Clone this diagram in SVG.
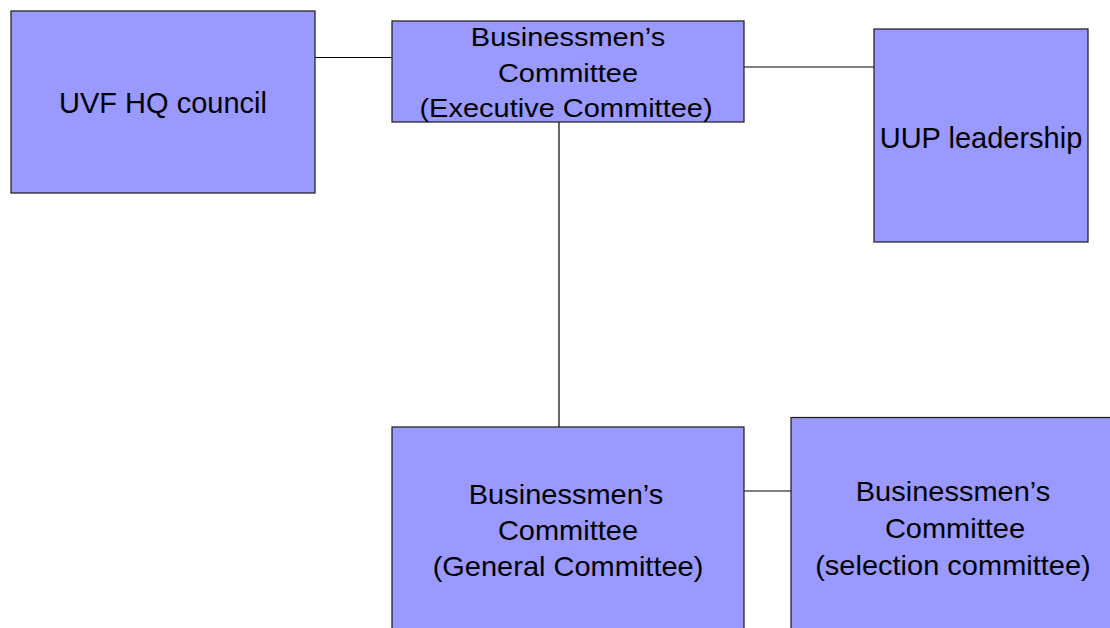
<svg xmlns="http://www.w3.org/2000/svg" width="1110" height="628" viewBox="0 0 1110 628">
<style>
.box{fill:#9999FF;stroke:#1a1a1a;stroke-width:1.2}
.lbl{font-family:"Liberation Sans",Arial,sans-serif;font-size:29px;fill:#000;text-anchor:middle}
.conn{stroke:#000;stroke-width:1.2;fill:none}
</style>
<rect width="1110" height="628" fill="#ffffff"/>
<g id="connectors">
<line class="conn" x1="315" y1="57.5" x2="392" y2="57.5"/>
<line class="conn" x1="744" y1="67" x2="874" y2="67"/>
<line class="conn" x1="559" y1="122" x2="559" y2="427"/>
<line class="conn" x1="744" y1="491" x2="791" y2="491"/>
</g>
<g id="uvf">
<rect class="box" x="11" y="11" width="304" height="182"/>
<text class="lbl" x="163" y="113">UVF HQ council</text>
</g>
<g id="exec">
<rect class="box" x="392" y="21" width="352" height="101"/>
<text class="lbl" transform="matrix(1 0 0 0.86 568 46)">Businessmen’s</text>
<text class="lbl" transform="matrix(1 0 0 0.86 568 81.5)">Committee</text>
<text class="lbl" transform="matrix(1 0 0 0.86 566 116.5)">(Executive Committee)</text>
</g>
<g id="uup">
<rect class="box" x="874" y="29" width="214" height="213"/>
<text class="lbl" x="981" y="148">UUP leadership</text>
</g>
<g id="general">
<rect class="box" x="392" y="427" width="352" height="230"/>
<text class="lbl" transform="matrix(1 0 0 0.93 566 503.5)">Businessmen’s</text>
<text class="lbl" transform="matrix(1 0 0 0.93 568 539.5)">Committee</text>
<text class="lbl" transform="matrix(1 0 0 0.93 568 576)">(General Committee)</text>
</g>
<g id="selection">
<rect class="box" x="791" y="417.5" width="330" height="240"/>
<text class="lbl" transform="matrix(1 0 0 0.93 953 500.5)">Businessmen’s</text>
<text class="lbl" transform="matrix(1 0 0 0.93 955 538)">Committee</text>
<text class="lbl" transform="matrix(1 0 0 0.93 953 574.5)">(selection committee)</text>
</g>
</svg>
